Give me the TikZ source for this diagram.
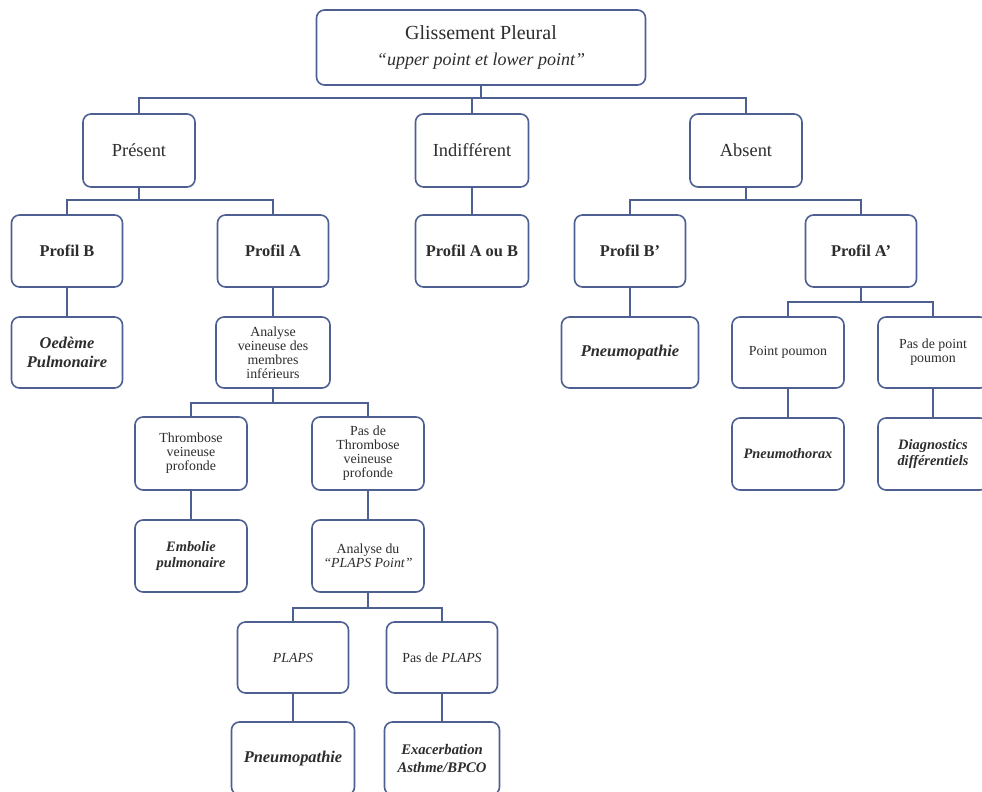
\documentclass[tikz,border=0pt]{standalone}
\usepackage{fontspec}
\setmainfont{Liberation Serif}
\definecolor{bc}{RGB}{78,96,146}
\definecolor{tc}{RGB}{45,45,45}
\tikzset{
  box/.style={draw=bc, line width=1.2pt, rounded corners=6pt, fill=white, align=center, inner sep=2pt, text=tc},
  conn/.style={draw=bc, line width=1.2pt},
  rootf/.style={font=\fontsize{15}{19}\selectfont},
  lvone/.style={font=\fontsize{13.8}{16}\selectfont},
  bld/.style={font=\fontsize{12.3}{14.5}\selectfont\bfseries},
  bit/.style={font=\fontsize{12.3}{14.5}\selectfont\bfseries\itshape},
  bitsm/.style={font=\fontsize{10.8}{12.5}\selectfont\bfseries\itshape},
  sml/.style={font=\fontsize{10.4}{10.5}\selectfont},
  Lone/.style={minimum width=84pt, minimum height=54.75pt},
  Ltwo/.style={minimum width=83.25pt, minimum height=54pt},
  Lthree/.style={minimum width=84pt, minimum height=53.25pt},
}
\begin{document}
\begin{tikzpicture}[x={(0.75pt,0)}, y={(0,-0.75pt)}]
\useasboundingbox (0,0) rectangle (982,792);
% level 0
\node[box, rootf, minimum width=246.75pt, minimum height=56.25pt] (root) at (481,47.5)
  {Glissement Pleural\\[1pt]{\fontsize{13.5}{16}\selectfont\itshape “upper point et lower point”}};
% level 1
\node[box, lvone, Lone] (pres) at (139,150.5) {Présent};
\node[box, lvone, Lone, minimum width=84.75pt] (indif) at (472,150.5) {Indifférent};
\node[box, lvone, Lone] (abs) at (746,150.5) {Absent};
% level 2
\node[box, bld, Ltwo] (profB) at (67,251) {Profil B};
\node[box, bld, Ltwo] (profA) at (273,251) {Profil A};
\node[box, bld, Ltwo, minimum width=84.75pt] (profAB) at (472,251) {Profil A ou B};
\node[box, bld, Ltwo] (profBp) at (630,251) {Profil B'};
\node[box, bld, Ltwo] (profAp) at (861,251) {Profil A'};
% level 3
\node[box, bit, Lthree, minimum width=83.25pt] (oedeme) at (67,352.5) {Oedème\\Pulmonaire};
\node[box, sml, Lthree, minimum width=85.5pt] (analyse) at (273,352.5) {Analyse\\veineuse des\\membres\\inférieurs};
\node[box, bit, Lthree, minimum width=102.75pt] (pneumoA) at (630,352.5) {Pneumopathie};
\node[box, sml, Lthree] (pointp) at (788,352.5) {Point poumon};
\node[box, sml, Lthree, minimum width=82.5pt] (paspp) at (933,352.5) {Pas de point\\poumon};
% level 4
\node[box, sml, Lone] (throm) at (191,453.5) {Thrombose\\veineuse\\profonde};
\node[box, sml, Lone] (pasthrom) at (368,453.5) {Pas de\\Thrombose\\veineuse\\profonde};
\node[box, bitsm, Ltwo, minimum width=84pt] (pneumothorax) at (788,454) {Pneumothorax};
\node[box, bitsm, Ltwo, minimum width=82.5pt] (diag) at (933,454) {Diagnostics\\différentiels};
% level 5
\node[box, bitsm, Ltwo, minimum width=84pt] (embolie) at (191,556) {Embolie\\pulmonaire};
\node[box, sml, Ltwo, minimum width=84pt] (plapsan) at (368,556) {Analyse du\\\textit{“PLAPS Point”}};
% level 6
\node[box, sml, Lthree, minimum width=83.25pt] (plaps) at (293,657.5) {\textit{PLAPS}};
\node[box, sml, Lthree, minimum width=83.25pt] (pasplaps) at (442,657.5) {Pas de \textit{PLAPS}};
% level 7
\node[box, bit, minimum width=92.25pt, minimum height=54.75pt] (pneumoB) at (293,758.5) {Pneumopathie};
\node[box, minimum width=86.25pt, minimum height=54.75pt, font=\fontsize{11}{13}\selectfont\bfseries\itshape] (exac) at (442,758.5) {Exacerbation\\Asthme/BPCO};
% connectors
\coordinate (yA) at (0,98);
\coordinate (yB) at (0,200);
\coordinate (yC) at (0,302);
\coordinate (yD) at (0,403);
\coordinate (yE) at (0,608);
\draw[conn] (root.south) -- (root.south |- yA) -| (pres.north);
\draw[conn] (root.south |- yA) -| (indif.north);
\draw[conn] (root.south |- yA) -| (abs.north);
\draw[conn] (pres.south) -- (pres.south |- yB) -| (profB.north);
\draw[conn] (pres.south |- yB) -| (profA.north);
\draw[conn] (abs.south) -- (abs.south |- yB) -| (profBp.north);
\draw[conn] (abs.south |- yB) -| (profAp.north);
\draw[conn] (indif.south) -- (profAB.north);
\draw[conn] (profB.south) -- (oedeme.north);
\draw[conn] (profA.south) -- (analyse.north);
\draw[conn] (profBp.south) -- (pneumoA.north);
\draw[conn] (profAp.south) -- (profAp.south |- yC) -| (pointp.north);
\draw[conn] (profAp.south |- yC) -| (paspp.north);
\draw[conn] (pointp.south) -- (pneumothorax.north);
\draw[conn] (paspp.south) -- (diag.north);
\draw[conn] (analyse.south) -- (analyse.south |- yD) -| (throm.north);
\draw[conn] (analyse.south |- yD) -| (pasthrom.north);
\draw[conn] (throm.south) -- (embolie.north);
\draw[conn] (pasthrom.south) -- (plapsan.north);
\draw[conn] (plapsan.south) -- (plapsan.south |- yE) -| (plaps.north);
\draw[conn] (plapsan.south |- yE) -| (pasplaps.north);
\draw[conn] (plaps.south) -- (pneumoB.north);
\draw[conn] (pasplaps.south) -- (exac.north);
\end{tikzpicture}
\end{document}
